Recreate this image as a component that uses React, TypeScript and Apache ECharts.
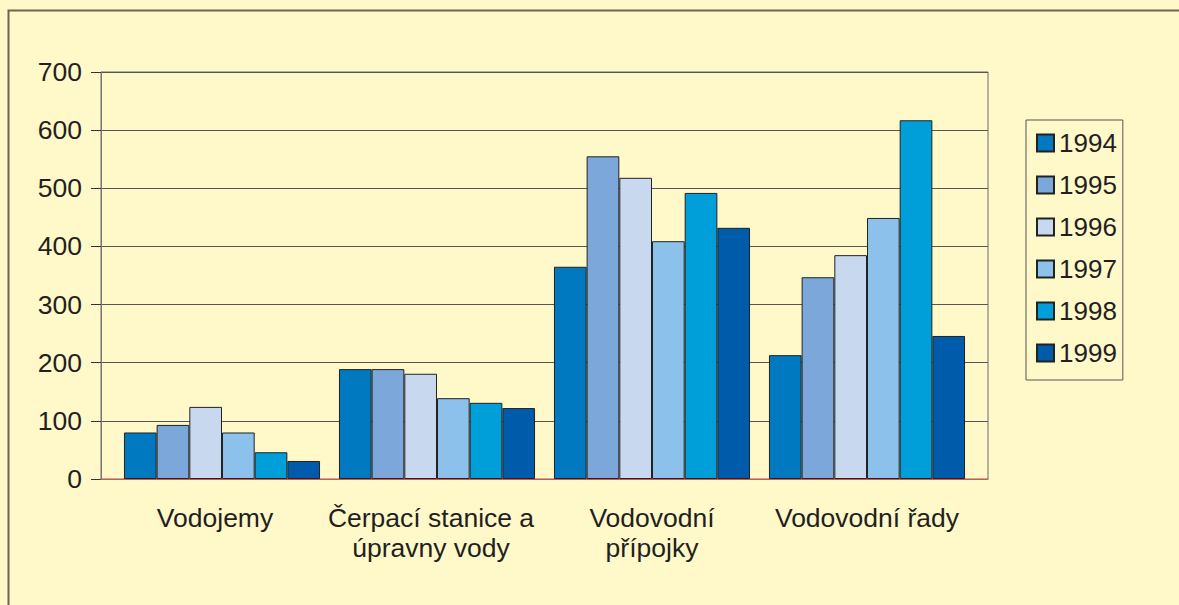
import React, { useEffect, useRef } from "react";
import * as echarts from "echarts";

const categories = ["Vodojemy", "Čerpací stanice a\núpravny vody", "Vodovodní\npřípojky", "Vodovodní řady"];
const years = ["1994", "1995", "1996", "1997", "1998", "1999"];
const v1994 = [80, 189, 365, 213];
const v1995 = [93, 189, 555, 347];
const v1996 = [124, 181, 518, 385];
const v1997 = [80, 139, 409, 449];
const v1998 = [46, 131, 492, 617];
const v1999 = [31, 122, 432, 246];
const seriesValues = [v1994, v1995, v1996, v1997, v1998, v1999];
const colors = ["#0079C1", "#7BA7DA", "#C8D8EF", "#8BC1EA", "#009FDA", "#005BAA"];
const yTicks = [0, 100, 200, 300, 400, 500, 600, 700];

const FONT = "'Liberation Sans', Arial, Helvetica, sans-serif";
const TEXT = "#231F20";

export default function App() {
  const ref = useRef<HTMLDivElement>(null);
  useEffect(() => {
    document.body.style.margin = "0";
    const chart = echarts.init(ref.current!, null, { renderer: "svg" });
    const yMax = yTicks[yTicks.length - 1];
    const labelShift = [14, 12, 0, 0];
    chart.setOption({
      animation: false,
      backgroundColor: "#FFF8C9",
      textStyle: { fontFamily: FONT, color: TEXT },
      grid: [
        { left: 101, top: 72, right: 191, bottom: 126, show: true, borderColor: "#6a6a6a", borderWidth: 1, backgroundColor: "transparent" },
        { left: 114.5, top: 72, width: 860, bottom: 126 },
      ],
      legend: {
        orient: "vertical",
        left: 1026,
        top: 120,
        data: years,
        itemWidth: 17,
        itemHeight: 17,
        itemGap: 16,
        padding: [10, 6, 14, 10],
        borderColor: "#555",
        borderWidth: 1,
        icon: "rect",
        textStyle: { fontFamily: FONT, fontSize: 26, color: TEXT, lineHeight: 25 },
      },
      xAxis: [
        {
          gridIndex: 0,
          type: "category",
          data: categories,
          axisTick: { show: false },
          axisLabel: { show: false },
          axisLine: { show: true, lineStyle: { color: "#d9534f", width: 1 } },
          z: 5,
        },
        {
          gridIndex: 1,
          type: "category",
          data: categories.map((c, i) => ({ value: c, textStyle: { padding: [0, labelShift[i], 0, 0] } })),
          axisTick: { show: false },
          axisLine: { show: false },
          axisLabel: { fontFamily: FONT, fontSize: 26.5, color: TEXT, margin: 24, lineHeight: 30, interval: 0 },
        },
      ],
      yAxis: [
        {
          gridIndex: 0,
          type: "value",
          min: 0,
          max: yMax,
          interval: 100,
          axisLine: { show: true, lineStyle: { color: "#777", width: 1 } },
          axisTick: { show: true, length: 10, lineStyle: { color: "#333" } },
          axisLabel: { fontFamily: FONT, fontSize: 26.5, color: TEXT, margin: 19 },
          splitLine: { show: true, lineStyle: { color: "#555", width: 1 } },
        },
        {
          gridIndex: 1,
          type: "value",
          min: 0,
          max: yMax,
          interval: 100,
          show: false,
          splitLine: { show: false },
        },
      ],
      series: years.map((y, i) => ({
        name: y,
        type: "bar",
        xAxisIndex: 1,
        yAxisIndex: 1,
        data: seriesValues[i],
        barGap: "0%",
        barCategoryGap: "8.8%",
        itemStyle: { color: colors[i], borderColor: "#222", borderWidth: 1 },
        z: 3,
      })),
      graphic: [
        {
          type: "rect",
          shape: { x: 8.5, y: 10.5, width: 1400, height: 800 },
          style: { fill: "none", stroke: "#6b6652", lineWidth: 2 },
          silent: true,
        },
      ],
    });
    return () => chart.dispose();
  }, []);
  return <div ref={ref} style={{ width: 1179, height: 605 }} />;
}
